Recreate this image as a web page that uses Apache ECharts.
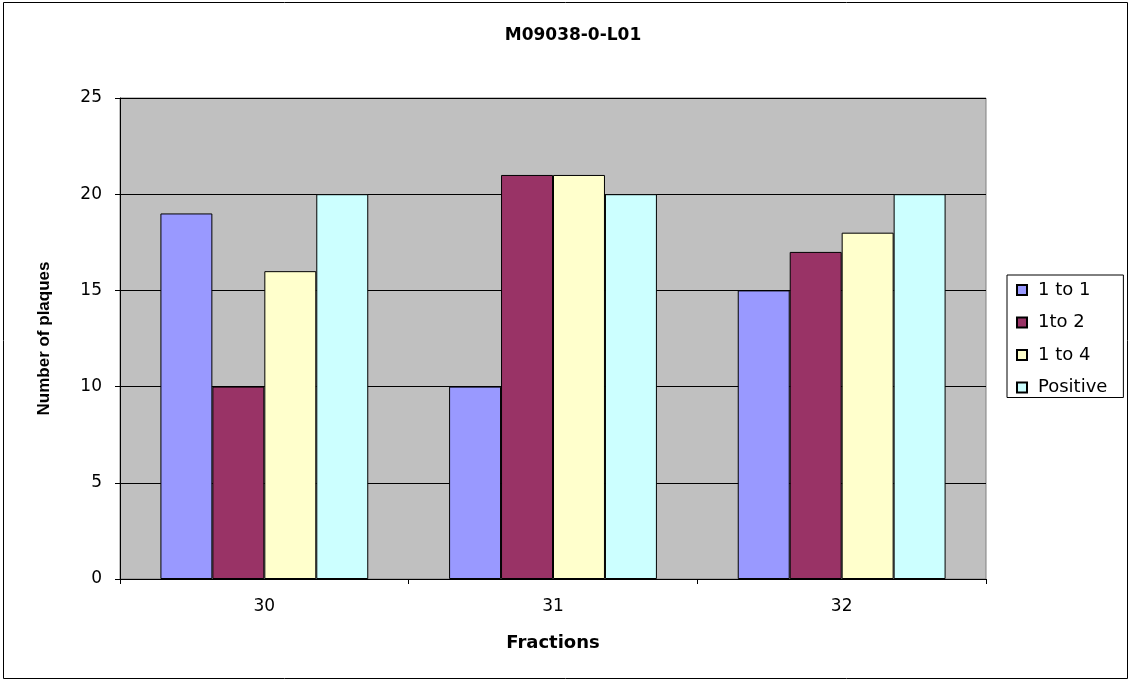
<!DOCTYPE html>
<html><head><meta charset="utf-8">
<script src="https://cdn.jsdelivr.net/npm/echarts@6/dist/echarts.min.js"></script>
<style>html,body{margin:0;padding:0;background:#fff}#c{width:1131px;height:681px}</style>
</head><body><div id="c"></div>
<script>
const categories = ['30', '31', '32'];
const seriesNames = ['1 to 1', '1to 2', '1 to 4', 'Positive'];
const s1to1 = [19, 10, 15];
const s1to2 = [10, 21, 17];
const s1to4 = [16, 21, 18];
const sPositive = [20, 20, 20];
const colors = ['#9999FF', '#993366', '#FFFFCC', '#CCFFFF'];
const values = [s1to1, s1to2, s1to4, sPositive];

const chart = echarts.init(document.getElementById('c'));
const font = '"DejaVu Sans", Arial, sans-serif';
const arial = 'Arial, "Liberation Sans", sans-serif';
chart.setOption({
  animation: false,
  backgroundColor: '#fff',
  textStyle: {fontFamily: font},
  title: {text: 'M09038-0-L01', left: 568, textAlign: 'center', top: 22,
    textStyle: {fontSize: 17, fontWeight: 'bold', color: '#000', fontFamily: font}},
  graphic: [{type: 'rect', shape: {x: 3.5, y: 2.5, width: 1124, height: 676},
    style: {fill: 'none', stroke: '#000', lineWidth: 1}, silent: true}],
  grid: {left: 120, right: 145, top: 98, bottom: 102, show: true, backgroundColor: '#C0C0C0', borderColor: '#808080', borderWidth: 1},
  legend: {orient: 'vertical', left: 1007, top: 275, itemGap: 14.5, itemWidth: 10, itemHeight: 10,
    padding: [6, 16, 1, 9], borderColor: '#000', borderWidth: 1, icon: 'rect',
    textStyle: {fontSize: 18, color: '#000', fontFamily: font, padding: [0, 0, 0, 6]},
    data: seriesNames},
  xAxis: {type: 'category', data: categories,
    name: 'Fractions', nameLocation: 'middle', nameGap: 55,
    nameTextStyle: {fontSize: 18, fontWeight: 'bold', color: '#000', fontFamily: font},
    axisLine: {lineStyle: {color: '#000'}},
    axisTick: {show: true, length: 5, lineStyle: {color: '#000'}},
    axisLabel: {fontSize: 17, color: '#000', margin: 19, fontFamily: font}},
  yAxis: {type: 'value', min: 0, max: 25, interval: 5,
    name: 'Number of plaques', nameLocation: 'middle', nameGap: 67, nameRotate: 90,
    nameTextStyle: {fontSize: 17, fontWeight: 'bold', color: '#000', fontFamily: arial},
    axisLine: {show: true, lineStyle: {color: '#000'}},
    axisTick: {show: true, length: 5, lineStyle: {color: '#000'}},
    axisLabel: {fontSize: 17, color: '#000', margin: 18, fontFamily: font},
    splitLine: {show: true, lineStyle: {color: '#000', width: 1}}},
  series: seriesNames.map((n, i) => ({
    name: n, type: 'bar', data: values[i], barGap: '0%', barCategoryGap: '28%',
    itemStyle: {color: colors[i], borderColor: '#000', borderWidth: 1}
  }))
});
</script></body></html>
